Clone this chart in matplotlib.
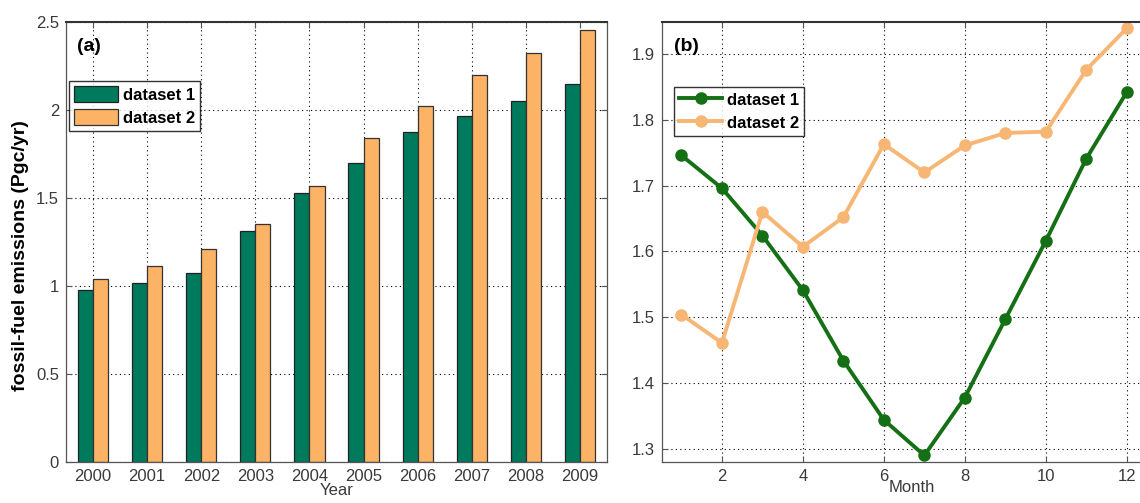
import numpy as np
import matplotlib
matplotlib.use("Agg")
import matplotlib.pyplot as plt

plt.rcParams["font.family"] = ["Liberation Sans", "DejaVu Sans"]

# panel (a): annual emissions
years = ["2000", "2001", "2002", "2003", "2004", "2005", "2006", "2007", "2008", "2009"]
annual_ds1 = [0.975, 1.019, 1.074, 1.312, 1.530, 1.697, 1.877, 1.968, 2.053, 2.150]
annual_ds2 = [1.041, 1.112, 1.210, 1.352, 1.566, 1.839, 2.021, 2.197, 2.322, 2.455]

# panel (b): monthly emissions
months = [1, 2, 3, 4, 5, 6, 7, 8, 9, 10, 11, 12]
monthly_ds1 = [1.746, 1.696, 1.624, 1.541, 1.434, 1.344, 1.290, 1.378, 1.497, 1.616, 1.741, 1.842]
monthly_ds2 = [1.504, 1.461, 1.660, 1.607, 1.652, 1.763, 1.720, 1.761, 1.780, 1.782, 1.876, 1.939]

bar_green = "#007a5c"
bar_orange = "#fdb366"
line_green = "#157015"
line_orange = "#f7b674"
tick_color = "#3a3a3a"

W, H = 1140, 503
fig = plt.figure(figsize=(W / 100, H / 100), dpi=100)


def px_axes(x0, y0, x1, y1):
    return fig.add_axes([x0 / W, 1 - y1 / H, (x1 - x0) / W, (y1 - y0) / H])


def style(ax):
    ax.set_axisbelow(True)
    ax.grid(True, color="black", linestyle=(0, (1, 3)), linewidth=0.8)
    ax.tick_params(direction="in", length=4, colors="#555555", labelcolor=tick_color,
                   labelsize=12, top=True, right=True, pad=5)
    for s in ax.spines.values():
        s.set_color("#555555")
        s.set_linewidth(0.9)
    ax.spines["top"].set_color("#333333")
    ax.spines["top"].set_linewidth(1.5)


legend_kw = dict(fancybox=False, edgecolor="black", prop={"weight": "bold", "size": 12},
                 borderpad=0.3, labelspacing=0.4, handletextpad=0.3, borderaxespad=0)

# ---- (a) ----
ax = px_axes(66, 22, 607, 462)
x = np.arange(len(years))
w = 0.28
ax.bar(x - w / 2, annual_ds1, w, color=bar_green, edgecolor="#222222", linewidth=0.9, label="dataset 1")
ax.bar(x + w / 2, annual_ds2, w, color=bar_orange, edgecolor="#333333", linewidth=0.9, label="dataset 2")
ax.set_xlim(-0.5, 9.5)
ax.set_ylim(0, 2.5)
ax.set_xticks(x)
ax.set_xticklabels(years)
ax.set_yticks([0, 0.5, 1, 1.5, 2, 2.5])
ax.set_yticklabels(["0", "0.5", "1", "1.5", "2", "2.5"])
style(ax)
ax.set_xlabel("Year", fontsize=12, color=tick_color, labelpad=-1)
ax.set_ylabel("fossil-fuel emissions (Pgc/yr)", fontsize=14, fontweight="bold")
ax.yaxis.set_label_coords(-0.068, 0.47)
ax.text(0.02, 0.945, "(a)", transform=ax.transAxes, fontsize=14, fontweight="bold",
        ha="left", va="center")
leg = ax.legend(loc="upper left", bbox_to_anchor=(0.006, 0.865),
                handlelength=2.6, handleheight=1.05, **legend_kw)
leg.get_frame().set_linewidth(1.0)

# ---- (b) ----
bx = px_axes(662, 22, 1162, 462)
bx.plot(months, monthly_ds1, "-o", color=line_green, linewidth=2.8, markersize=8, label="dataset 1")
bx.plot(months, monthly_ds2, "-o", color=line_orange, linewidth=2.8, markersize=8, label="dataset 2")
bx.set_xlim(0.52, 12.87)
bx.set_ylim(1.28, 1.9486)
bx.set_xticks([2, 4, 6, 8, 10, 12])
bx.set_yticks([1.3, 1.4, 1.5, 1.6, 1.7, 1.8, 1.9])
style(bx)
bx.set_xlabel("Month", fontsize=12, color=tick_color, labelpad=-3)
bx.text(0.024, 0.945, "(b)", transform=bx.transAxes, fontsize=14, fontweight="bold",
        ha="left", va="center")
leg2 = bx.legend(loc="upper left", bbox_to_anchor=(0.024, 0.853),
                 handlelength=2.6, handleheight=1.05, **legend_kw)
leg2.get_frame().set_linewidth(1.0)

fig.savefig("out.png", dpi=100)
